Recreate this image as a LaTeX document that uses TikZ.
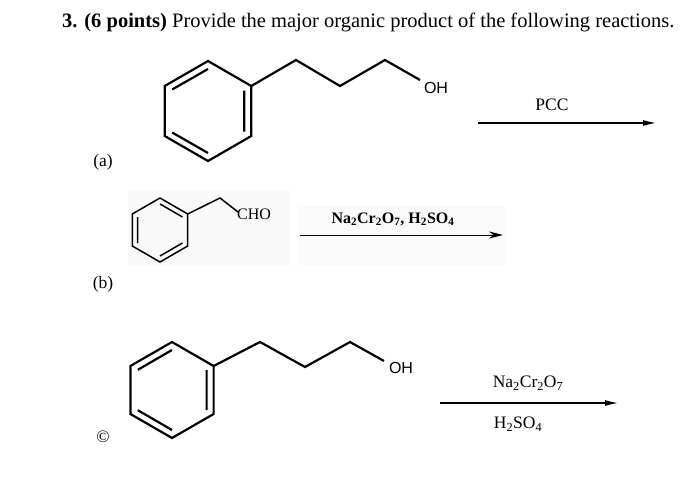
\documentclass[tikz,border=0pt]{standalone}
\usepackage{fontspec}
\setmainfont{Liberation Serif}
\newfontfamily\sansf{Liberation Sans}
\usetikzlibrary{arrows.meta}
\begin{document}
\begin{tikzpicture}[x=1pt,y=-1pt,
  bond/.style={line width=2.2pt,line join=miter},
  thin bond/.style={line width=1.5pt},
  rxn/.style={line width=1.2pt,-{Latex[length=13pt,width=6pt]}},
  lbl/.style={inner sep=0pt,font=\fontsize{17.5}{17.5}\selectfont}]
\useasboundingbox (0,0) rectangle (700,479);
\fill[white] (0,0) rectangle (700,479);
\node[lbl,anchor=west,font=\fontsize{20.5}{20.5}\selectfont] (title) at (62,22) {\textbf{3. (6 points)} Provide the major organic product of the following reactions.};
% (a)
\draw[bond] (208,61) -- (251.3,86) -- (251.3,136) -- (208,161) -- (164.7,136) -- (164.7,86) -- cycle;
\draw[bond] (208,69) -- (172.2,89.5) (244.3,90.5) -- (244.3,131.5) (172.2,132.5) -- (208,153);
\coordinate (a1) at (251.3,86); \coordinate (a2) at (296,60); \coordinate (a3) at (340,86); \coordinate (a4) at (385,60); \coordinate (a5) at (420,80);
\draw[bond] (a1) -- (a2) -- (a3) -- (a4) -- (a5);
\node[lbl,font=\sansf\fontsize{16}{16}\selectfont] (oha) at (436,88) {OH};
\coordinate (ra1) at (478,123); \coordinate (ra2) at (656,123);
\draw[rxn] (ra1) -- (ra2);
\node[lbl] (pcc) at (552,105) {PCC};
\node[lbl] (la) at (103,162) {(a)};
% (b)
\fill[black!2.5] (128,190) rectangle (290,266);
\fill[black!2] (298,205) rectangle (505,265);
\draw[thin bond] (160,198) -- (187.7,214) -- (187.7,246) -- (160,262) -- (132.3,246) -- (132.3,214) -- cycle;
\draw[thin bond] (160,204) -- (182.5,217) (137.5,217) -- (137.5,243) (182.5,243) -- (160,256);
\coordinate (b1) at (187.7,214); \coordinate (b2) at (220,198); \coordinate (b3) at (238,212);
\draw[thin bond] (b1) -- (b2) -- (b3);
\node[lbl,anchor=west,font=\fontsize{16}{16}\selectfont] (cho) at (237,214) {CHO};
\coordinate (rb1) at (300,235); \coordinate (rb2) at (503,235);
\draw[line width=1pt,-{Stealth[length=14pt,width=7pt]}] (rb1) -- (rb2);
\node[lbl,font=\fontsize{16}{16}\selectfont\bfseries] (nab) at (393,219) {Na\textsubscript{2}Cr\textsubscript{2}O\textsubscript{7}, H\textsubscript{2}SO\textsubscript{4}};
\node[lbl] (lb) at (103,284) {(b)};
% (c)
\draw[bond] (172,342) -- (213.6,366) -- (213.6,414) -- (172,438) -- (130.4,414) -- (130.4,366) -- cycle;
\draw[bond] (172,350) -- (137.8,369.8) (206.6,370) -- (206.6,410) (137.8,410.2) -- (172,430);
\coordinate (c1) at (213.6,366); \coordinate (c2) at (260,342); \coordinate (c3) at (305,367); \coordinate (c4) at (350,342); \coordinate (c5) at (384,361);
\draw[bond] (c1) -- (c2) -- (c3) -- (c4) -- (c5);
\node[lbl,font=\sansf\fontsize{16}{16}\selectfont] (ohc) at (401,368) {OH};
\coordinate (rc1) at (440,403); \coordinate (rc2) at (618,403);
\draw[rxn] (rc1) -- (rc2);
\node[lbl] (nac) at (528,383) {Na\textsubscript{2}Cr\textsubscript{2}O\textsubscript{7}};
\node[lbl] (hc) at (518,424) {H\textsubscript{2}SO\textsubscript{4}};
\node[lbl] (copy) at (103,437) {\char"00A9};
\end{tikzpicture}
\end{document}
